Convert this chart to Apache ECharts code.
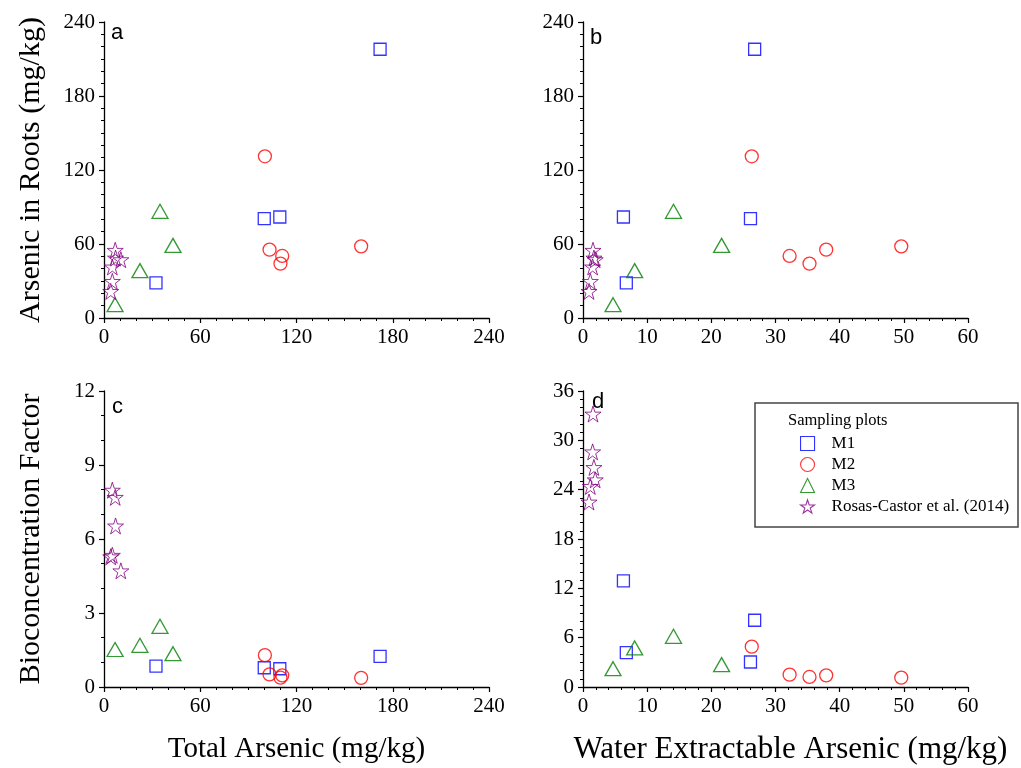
<!DOCTYPE html>
<html>
<head>
<meta charset="utf-8">
<script src="https://cdn.jsdelivr.net/npm/echarts@6/dist/echarts.min.js"></script>
<style>html,body{margin:0;padding:0;background:#fff}#c{width:1021px;height:768px}</style>
</head>
<body>
<div id="c"></div>
<script>
// ---- Data ----
const seriesNames = ['M1', 'M2', 'M3', 'Rosas-Castor et al. (2014)'];

// M1
const m1Total = [172.1, 99.9, 109.6, 32.4];
const m1Root = [217.9, 80.5, 81.9, 28.4];
const m1Water = [26.75, 26.1, 6.3, 6.75];
const m1BcfTotal = [1.24, 0.78, 0.74, 0.85];
const m1BcfWater = [8.12, 3.04, 12.9, 4.18];

// M2
const m2Total = [100.3, 103.2, 111.1, 110.0, 160.3];
const m2Root = [131.1, 55.4, 50.3, 44.1, 58.1];
const m2Water = [26.3, 37.9, 32.2, 35.3, 49.6];
const m2BcfTotal = [1.29, 0.51, 0.47, 0.38, 0.37];
const m2BcfWater = [4.91, 1.42, 1.50, 1.22, 1.14];

// M3
const m3Total = [34.9, 43.0, 22.4, 6.9];
const m3Root = [86.5, 58.9, 38.4, 10.8];
const m3Water = [14.1, 21.6, 8.05, 4.68];
const m3BcfTotal = [2.46, 1.35, 1.69, 1.52];
const m3BcfWater = [6.17, 2.72, 4.75, 2.23];

// Rosas-Castor et al. (2014)
const rcTotal = [7.0, 7.2, 10.5, 5.2, 5.2, 4.2];
const rcRoot = [54.9, 48.6, 47.3, 41.4, 29.7, 21.6];
const rcWater = [1.56, 1.7, 1.9, 1.5, 1.14, 0.94];
const rcBcfTotal = [7.69, 6.53, 4.71, 7.98, 5.34, 5.28];
const rcBcfWater = [33.2, 26.7, 25.2, 28.6, 24.4, 22.5];

// Axis ranges / ticks
const totalTicks = [0, 240, 60];
const waterTicks = [0, 60, 10];
const rootTicks = [0, 240, 60];
const bcfTotalTicks = [0, 12, 3];
const bcfWaterTicks = [0, 36, 6];

const panelLetters = ['a', 'b', 'c', 'd'];
const xTitles = ['Total Arsenic (mg/kg)', 'Water Extractable Arsenic (mg/kg)'];
const yTitles = ['Arsenic in Roots (mg/kg)', 'Bioconcentration Factor'];

// ---- Styling ----
const SERIF = 'Liberation Serif';
const colors = ['#0000ff', '#ff0000', '#008000', '#800080'];
const STAR = 'path://M50,2 L61.2,36.6 L97.6,36.6 L68.2,58 L79.4,92.6 L50,71.2 L20.6,92.6 L31.8,58 L2.4,36.6 L38.8,36.6 Z';
const symbols = ['rect', 'circle', 'triangle', STAR];
const symbolSizes = [12, 13, [16, 14], 16];
const borderWidths = [1.3, 1.3, 1.3, 1.0];

const grids = [
  {left: 104, top: 22, width: 385, height: 296},
  {left: 583, top: 22, width: 385, height: 296},
  {left: 104, top: 391, width: 385, height: 296},
  {left: 583, top: 391, width: 385, height: 296}
];

function axisCommon(ticks, minorSplit) {
  return {
    type: 'value',
    min: ticks[0], max: ticks[1], interval: ticks[2],
    axisLine: {show: true, onZero: false, lineStyle: {color: '#000', width: 1.3}},
    axisTick: {show: true, inside: false, length: 5, lineStyle: {color: '#000', width: 1.2}},
    minorTick: {show: true, splitNumber: minorSplit, length: 3, lineStyle: {color: '#000', width: 1}},
    splitLine: {show: false},
    minorSplitLine: {show: false},
    axisLabel: {color: '#000', fontFamily: SERIF, fontSize: 21, margin: 9}
  };
}

const xAxes = [
  Object.assign(axisCommon(totalTicks, 6), {gridIndex: 0}),
  Object.assign(axisCommon(waterTicks, 5), {gridIndex: 1}),
  Object.assign(axisCommon(totalTicks, 6), {gridIndex: 2, name: xTitles[0], nameLocation: 'middle', nameGap: 48,
    nameTextStyle: {color: '#000', fontFamily: SERIF, fontSize: 29}}),
  Object.assign(axisCommon(waterTicks, 5), {gridIndex: 3, name: xTitles[1], nameLocation: 'middle', nameGap: 47,
    nameTextStyle: {color: '#000', fontFamily: SERIF, fontSize: 31, padding: [0, 0, 0, 30]}})
];
const yAxes = [
  Object.assign(axisCommon(rootTicks, 6), {gridIndex: 0, name: yTitles[0], nameLocation: 'middle', nameGap: 58,
    nameTextStyle: {color: '#000', fontFamily: SERIF, fontSize: 30}}),
  Object.assign(axisCommon(rootTicks, 6), {gridIndex: 1}),
  Object.assign(axisCommon(bcfTotalTicks, 3), {gridIndex: 2, name: yTitles[1], nameLocation: 'middle', nameGap: 58,
    nameTextStyle: {color: '#000', fontFamily: SERIF, fontSize: 30}}),
  Object.assign(axisCommon(bcfWaterTicks, 6), {gridIndex: 3})
];

const groups = [
  {x: [m1Total, m1Water, m1Total, m1Water], y: [m1Root, m1Root, m1BcfTotal, m1BcfWater]},
  {x: [m2Total, m2Water, m2Total, m2Water], y: [m2Root, m2Root, m2BcfTotal, m2BcfWater]},
  {x: [m3Total, m3Water, m3Total, m3Water], y: [m3Root, m3Root, m3BcfTotal, m3BcfWater]},
  {x: [rcTotal, rcWater, rcTotal, rcWater], y: [rcRoot, rcRoot, rcBcfTotal, rcBcfWater]}
];

const series = [];
groups.forEach(function (g, si) {
  for (let p = 0; p < 4; p++) {
    series.push({
      type: 'scatter',
      name: seriesNames[si],
      xAxisIndex: p, yAxisIndex: p,
      symbol: symbols[si],
      symbolSize: symbolSizes[si],
      itemStyle: {color: 'rgba(0,0,0,0)', borderColor: colors[si], borderWidth: borderWidths[si]},
      emphasis: {disabled: true},
      data: g.x[p].map(function (v, i) { return [v, g.y[p][i]]; })
    });
  }
});

const letterPos = [[111, 33], [590, 38], [112, 407], [592, 402]];
const graphic = panelLetters.map(function (t, i) {
  return {type: 'text', left: letterPos[i][0], top: letterPos[i][1] - 11, z: 10,
    style: {text: t, fontFamily: 'Liberation Sans', fontSize: 22, fill: '#000'}};
});
graphic.push({type: 'rect', shape: {x: 755, y: 403, width: 263, height: 124}, z: 5,
  style: {fill: '#fff', stroke: '#444', lineWidth: 1.5}});
graphic.push({type: 'text', left: 788, top: 412, z: 10,
  style: {text: 'Sampling plots', fontFamily: SERIF, fontSize: 16.5, fill: '#000'}});

const option = {
  backgroundColor: '#fff',
  animation: false,
  grid: grids,
  xAxis: xAxes,
  yAxis: yAxes,
  legend: {
    data: seriesNames,
    orient: 'vertical',
    left: 795, top: 430,
    itemWidth: 14, itemHeight: 14, itemGap: 4,
    selectedMode: true,
    itemStyle: {borderWidth: 1.1},
    textStyle: {color: '#000', fontFamily: SERIF, fontSize: 17, padding: [0, 0, 0, 12]},
    z: 20
  },
  graphic: graphic,
  series: series
};

const chart = echarts.init(document.getElementById('c'));
chart.setOption(option);
</script>
</body>
</html>
